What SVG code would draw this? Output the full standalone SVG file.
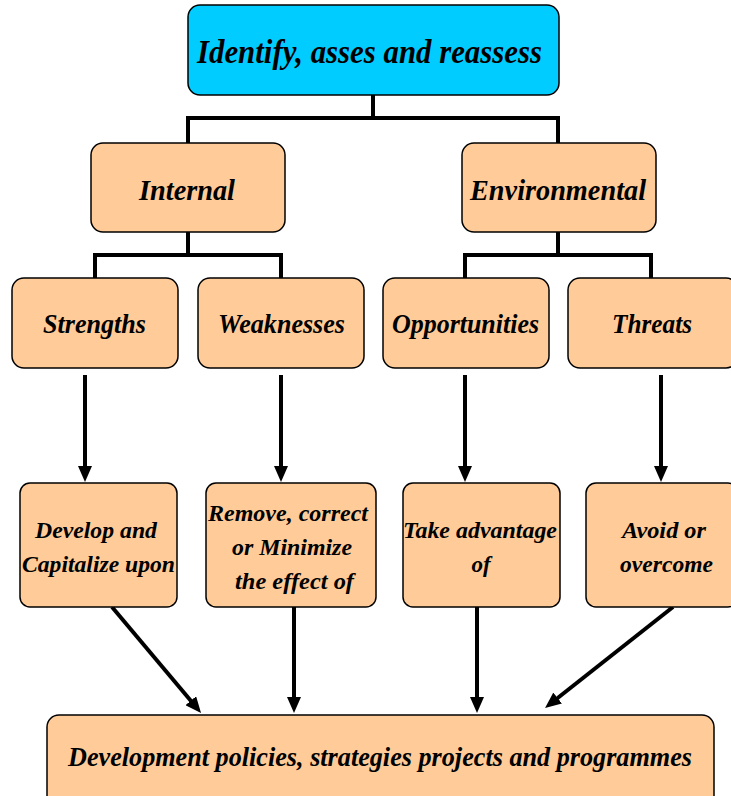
<svg xmlns="http://www.w3.org/2000/svg" width="731" height="796" viewBox="0 0 731 796">
<style>
.box{fill:#FFCC99;stroke:#000;stroke-width:1.5}
.top{fill:#00CCFF;stroke:#000;stroke-width:1.5}
.t{font-family:"Liberation Serif","Times New Roman",serif;font-weight:bold;font-style:italic;fill:#000}
.c{fill:none;stroke:#000;stroke-width:4}
</style>
<defs>
<marker id="ah" markerUnits="userSpaceOnUse" markerWidth="18" markerHeight="14" refX="6" refY="7" orient="auto">
<path d="M0,0 L16,7 L0,14 z" fill="#000"/>
</marker>
</defs>
<rect width="731" height="796" fill="#fff"/>
<g id="connectors">
<path class="c" d="M373,95 V118 M187,118 H559 M188,116 V143 M558,116 V143"/>
<path class="c" d="M188,232 V255 M95,255 H281 M95,253 V278 M281,253 V278"/>
<path class="c" d="M558,232 V255 M465,255 H651 M465,253 V278 M651,253 V278"/>
<line class="c" x1="85" y1="375" x2="85" y2="472" marker-end="url(#ah)"/>
<line class="c" x1="281" y1="375" x2="281" y2="472" marker-end="url(#ah)"/>
<line class="c" x1="465" y1="375" x2="465" y2="472" marker-end="url(#ah)"/>
<line class="c" x1="661" y1="375" x2="661" y2="472" marker-end="url(#ah)"/>
<line class="c" x1="112" y1="607" x2="194.6" y2="705.3" marker-end="url(#ah)"/>
<line class="c" x1="294" y1="607" x2="294" y2="703" marker-end="url(#ah)"/>
<line class="c" x1="477" y1="607" x2="477" y2="703" marker-end="url(#ah)"/>
<line class="c" x1="673" y1="607" x2="552.9" y2="701.8" marker-end="url(#ah)"/>
</g>
<g id="identify"><rect class="top" x="188" y="5" width="371" height="90" rx="12"/><text class="t" x="197" y="63" font-size="34" textLength="345" lengthAdjust="spacingAndGlyphs">Identify, asses and reassess</text></g>
<g id="internal"><rect class="box" x="91" y="143" width="194" height="89" rx="12"/><text class="t" x="139" y="200" font-size="30" textLength="96" lengthAdjust="spacingAndGlyphs">Internal</text></g>
<g id="environmental"><rect class="box" x="462" y="143" width="194" height="89" rx="12"/><text class="t" x="470" y="200" font-size="30" textLength="176" lengthAdjust="spacingAndGlyphs">Environmental</text></g>
<g id="strengths"><rect class="box" x="12" y="278" width="166" height="90" rx="12"/><text class="t" x="43" y="333" font-size="27" textLength="103" lengthAdjust="spacingAndGlyphs">Strengths</text></g>
<g id="weaknesses"><rect class="box" x="198" y="278" width="166" height="90" rx="12"/><text class="t" x="218" y="333" font-size="27" textLength="127" lengthAdjust="spacingAndGlyphs">Weaknesses</text></g>
<g id="opportunities"><rect class="box" x="383" y="278" width="166" height="90" rx="12"/><text class="t" x="392" y="333" font-size="27" textLength="147" lengthAdjust="spacingAndGlyphs">Opportunities</text></g>
<g id="threats"><rect class="box" x="568" y="278" width="170" height="90" rx="12"/><text class="t" x="612" y="333" font-size="27" textLength="80" lengthAdjust="spacingAndGlyphs">Threats</text></g>
<g id="develop"><rect class="box" x="20" y="483" width="157" height="124" rx="10"/>
<text class="t" x="35" y="538" font-size="23" textLength="122" lengthAdjust="spacingAndGlyphs">Develop and</text>
<text class="t" x="22" y="572" font-size="23" textLength="153" lengthAdjust="spacingAndGlyphs">Capitalize upon</text></g>
<g id="remove"><rect class="box" x="206" y="483" width="170" height="124" rx="10"/>
<text class="t" x="208" y="521" font-size="23" textLength="160" lengthAdjust="spacingAndGlyphs">Remove, correct</text>
<text class="t" x="232" y="555" font-size="23" textLength="120" lengthAdjust="spacingAndGlyphs">or Minimize</text>
<text class="t" x="235" y="589" font-size="23" textLength="119" lengthAdjust="spacingAndGlyphs">the effect of</text></g>
<g id="takeadvantage"><rect class="box" x="403" y="483" width="157" height="124" rx="10"/>
<text class="t" x="403" y="538" font-size="23" textLength="154" lengthAdjust="spacingAndGlyphs">Take advantage</text>
<text class="t" x="481" y="572" font-size="23" text-anchor="middle">of</text></g>
<g id="avoid"><rect class="box" x="586" y="483" width="152" height="124" rx="10"/>
<text class="t" x="622" y="538" font-size="23" textLength="84" lengthAdjust="spacingAndGlyphs">Avoid or</text>
<text class="t" x="620" y="572" font-size="23" textLength="93" lengthAdjust="spacingAndGlyphs">overcome</text></g>
<g id="development"><rect class="box" x="47" y="715" width="667" height="95" rx="12"/>
<text class="t" x="68" y="766" font-size="27" textLength="624" lengthAdjust="spacingAndGlyphs">Development policies, strategies projects and programmes</text></g>
</svg>
